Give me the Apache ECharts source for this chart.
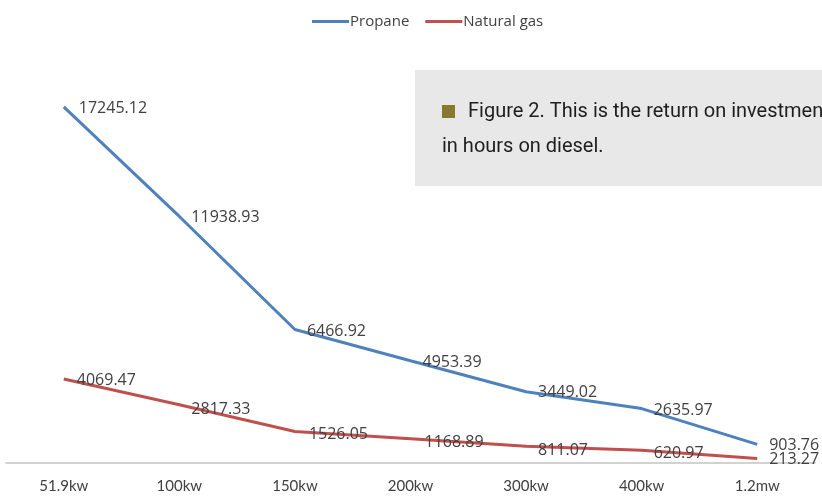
<!DOCTYPE html>
<html>
<head>
<meta charset="utf-8">
<script src="https://cdn.jsdelivr.net/npm/echarts@6/dist/echarts.min.js"></script>
<style>
  html, body { margin: 0; padding: 0; background: #fff; }
  #chart { width: 822px; height: 498px; }
</style>
</head>
<body>
<div id="chart"></div>
<script>
const categories = ["51.9kw", "100kw", "150kw", "200kw", "300kw", "400kw", "1.2mw"];
const propane = [17245.12, 11938.93, 6466.92, 4953.39, 3449.02, 2635.97, 903.76];
const naturalGas = [4069.47, 2817.33, 1526.05, 1168.89, 811.07, 620.97, 213.27];

const labelFont = {
  fontFamily: "'Open Sans', sans-serif",
  fontSize: 16,
  color: "#404040",
};

// small per-point nudges of the value labels
const propaneOffsets = [[3, 2], [0, 1], [0, 2], [0, 2], [0, 1], [0, 2], [0, 1]];
const gasOffsets = [[1, 1], [0, 5], [2, 3], [2, 4], [0, 4], [0, 3], [0, 1]];

function withLabels(values, offsets) {
  return values.map((v, i) => ({
    value: v,
    label: { offset: offsets[i] },
  }));
}

const chart = echarts.init(document.getElementById("chart"));
const option = {
  animation: false,
  legend: {
    top: 9,
    left: 307,
    itemWidth: 37,
    itemHeight: 3,
    itemGap: 16,
    icon: "rect",
    textStyle: {
      fontFamily: "'Open Sans', sans-serif",
      fontSize: 15,
      color: "#404040",
      padding: [0, 0, 0, -4],
    },
    data: ["Propane", "Natural gas"],
  },
  grid: { left: 6, right: 7, top: 50, bottom: 35 },
  xAxis: {
    type: "category",
    data: categories,
    axisLine: { lineStyle: { color: "#c4c4c4", width: 1.5 } },
    axisTick: { show: false },
    axisLabel: {
      margin: 16,
      fontFamily: "Lato, sans-serif",
      fontSize: 15,
      color: "#404040",
    },
  },
  yAxis: {
    type: "value",
    min: 0,
    max: 20000,
    show: false,
    splitLine: { show: false },
  },
  series: [
    {
      name: "Propane",
      type: "line",
      data: withLabels(propane, propaneOffsets),
      symbol: "circle",
      symbolSize: 0,
      lineStyle: { color: "#4f81bd", width: 3 },
      itemStyle: { color: "#4f81bd" },
      label: { show: true, position: "right", distance: 12, ...labelFont },
    },
    {
      name: "Natural gas",
      type: "line",
      data: withLabels(naturalGas, gasOffsets),
      symbol: "circle",
      symbolSize: 0,
      lineStyle: { color: "#c0504d", width: 3 },
      itemStyle: { color: "#c0504d" },
      label: { show: true, position: "right", distance: 12, ...labelFont },
    },
  ],
  graphic: [
    {
      type: "rect",
      shape: { x: 415, y: 70, width: 420, height: 116 },
      style: { fill: "#e8e8e8" },
      z: 100,
    },
    {
      type: "rect",
      shape: { x: 442, y: 105, width: 13, height: 13 },
      style: { fill: "#857a2e" },
      z: 101,
    },
    {
      type: "text",
      x: 468,
      y: 112,
      style: {
        text: "Figure 2. This is the return on investment",
        fontFamily: "Roboto, sans-serif",
        fontSize: 20,
        fill: "#1e1e1e",
        verticalAlign: "middle",
      },
      z: 101,
    },
    {
      type: "text",
      x: 442,
      y: 147,
      style: {
        text: "in hours on diesel.",
        fontFamily: "Roboto, sans-serif",
        fontSize: 20,
        fill: "#1e1e1e",
        verticalAlign: "middle",
      },
      z: 101,
    },
  ],
};
chart.setOption(option);
</script>
</body>
</html>
